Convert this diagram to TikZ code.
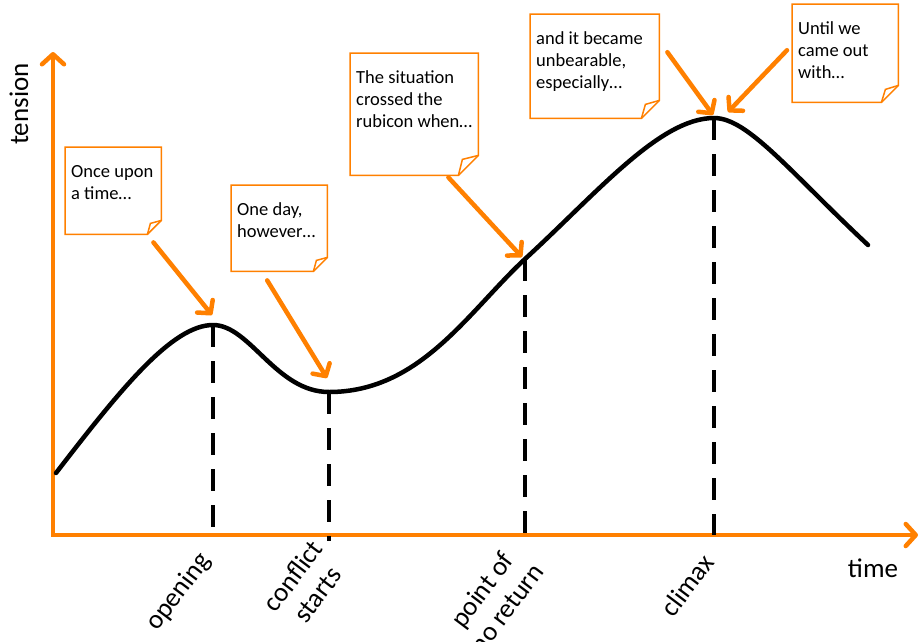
\documentclass[tikz,border=0pt]{standalone}
\usepackage{fontspec}
\setmainfont{Carlito}
\usepackage{xcolor}
\usepackage{tikz}
\usetikzlibrary{arrows.meta}

\definecolor{storyorange}{RGB}{255,128,0}

\newcommand{\notetext}[3]{\parbox[t][#2][t]{#1}{\rule{0pt}{30pt}#3}}

\begin{document}
\begin{tikzpicture}[
		x=1pt, y=-1pt,
		note/.style={
			anchor=north west,
			inner xsep=6pt,
			inner ysep=0pt,
			font=\fontsize{18.5}{22}\selectfont
		},
		noteline/.style={
			draw=storyorange,
			line width=1.5pt
		},
		axisline/.style={
			draw=storyorange,
			line width=4.5pt,
			{Straight Barb[length=10pt,width=22pt,round]}-{Straight Barb[length=10pt,width=22pt,round]}
		},
		pointer/.style={
			draw=storyorange,
			line width=4.5pt,
			line cap=round,
			-{Straight Barb[length=9pt,width=20pt,round]}
		},
		dropline/.style={
			draw=black,
			line width=4.5pt,
			dash pattern=on 22pt off 14pt
		},
		story/.style={
			draw=black,
			line width=4.5pt,
			line cap=round
		},
		axislabel/.style={
			font=\fontsize{27}{31}\selectfont,
			align=center
		}
		]
		
		\fill[white] (0,0) rectangle (924,641);
		\useasboundingbox (0,0) rectangle (924,641);
		
		\coordinate (origin) at (53,535);
		\coordinate (ytop) at (53,52);
		\coordinate (xend) at (918,535);
		
		\coordinate (start) at (56,473);
		\coordinate (opening) at (213,325);
		\coordinate (conflict) at (329,392);
		\coordinate (ponr) at (525,259);
		\coordinate (climax) at (714,118);
		\coordinate (finish) at (868,245);
		
		\node[note] (once) at (65,147)
		{\notetext{84pt}{87pt}{Once upon\\a time…}};
		
		\node[note] (oneday) at (231,185)
		{\notetext{84pt}{86pt}{One day,\\however…}};
		
		\node[note] (rubicon) at (350,53)
		{\notetext{116pt}{122pt}{The situation\\crossed the\\rubicon when…}};
		
		\node[note] (unbear) at (530,14)
		{\notetext{117pt}{104pt}{and it became\\unbearable,\\especially…}};
		
		\node[note] (until) at (792,4)
		{\notetext{94pt}{98pt}{Until we\\came out\\with…}};
		
		\draw[noteline] (once.north west) -- (once.north east) -- ([shift={(0,-14)}]once.south east) -- ([shift={(-14,0)}]once.south east) -- (once.south west) -- cycle;
		\draw[noteline] ([shift={(0,-14)}]once.south east) -- ([shift={(-11,-11)}]once.south east) -- ([shift={(-14,0)}]once.south east);
		
		\draw[noteline] (oneday.north west) -- (oneday.north east) -- ([shift={(0,-14)}]oneday.south east) -- ([shift={(-14,0)}]oneday.south east) -- (oneday.south west) -- cycle;
		\draw[noteline] ([shift={(0,-14)}]oneday.south east) -- ([shift={(-11,-11)}]oneday.south east) -- ([shift={(-14,0)}]oneday.south east);
		
		\draw[noteline] (rubicon.north west) -- (rubicon.north east) -- ([shift={(0,-20)}]rubicon.south east) -- ([shift={(-20,0)}]rubicon.south east) -- (rubicon.south west) -- cycle;
		\draw[noteline] ([shift={(0,-20)}]rubicon.south east) -- ([shift={(-16,-16)}]rubicon.south east) -- ([shift={(-20,0)}]rubicon.south east);
		
		\draw[noteline] (unbear.north west) -- (unbear.north east) -- ([shift={(0,-18)}]unbear.south east) -- ([shift={(-18,0)}]unbear.south east) -- (unbear.south west) -- cycle;
		\draw[noteline] ([shift={(0,-18)}]unbear.south east) -- ([shift={(-14,-14)}]unbear.south east) -- ([shift={(-18,0)}]unbear.south east);
		
		\draw[noteline] (until.north west) -- (until.north east) -- ([shift={(0,-17)}]until.south east) -- ([shift={(-17,0)}]until.south east) -- (until.south west) -- cycle;
		\draw[noteline] ([shift={(0,-17)}]until.south east) -- ([shift={(-13,-13)}]until.south east) -- ([shift={(-17,0)}]until.south east);
		
		\draw[axisline] (ytop) -- (origin) -- (xend);
		
		\draw[dropline] (opening) -- (opening |- origin);
		\draw[dropline] (conflict) -- ([yshift=-6pt]conflict |- origin);
		\draw[dropline] (ponr) -- (ponr |- origin);
		\draw[dropline] (climax) -- (climax |- origin);
		
		\draw[story] (start) .. controls (120,390) and (172,325) .. (opening)
		.. controls (250,325) and (276,392) .. (conflict)
		.. controls (420,392) and (468,312) .. (ponr)
		.. controls (598,192) and (660,118) .. (climax)
		.. controls (748,118) and (790,172) .. (finish);
		
		\draw[pointer] ([shift={(-8,8)}]once.south east) -- ([shift={(-1,-10)}]opening);
		\draw[pointer] ([shift={(-12,9)}]oneday.south) -- ([shift={(-2,-14)}]conflict);
		\draw[pointer] ([shift={(-30,2)}]rubicon.south east) -- ([shift={(-3,-2)}]ponr);
		\draw[pointer] ([shift={(8,-14)}]unbear.east) -- ([shift={(-1,-3)}]climax);
		\draw[pointer] ([shift={(-5,-3)}]until.west) -- ([shift={(14,-6)}]climax);
		
		\node[axislabel, rotate=90] (tension) at (19,104) {tension};
		\node[axislabel] (time) at (873,568) {time};
		\node[axislabel, rotate=53] (lblopening) at (179,592) {opening};
		\node[axislabel, rotate=53] (lblconflict) at (305,585) {conflict\\starts};
		\node[axislabel, rotate=53] (lblponr) at (494,599) {point of\\no return};
		\node[axislabel, rotate=53] (lblclimax) at (687,585) {climax};
		
	\end{tikzpicture}
\end{document}
